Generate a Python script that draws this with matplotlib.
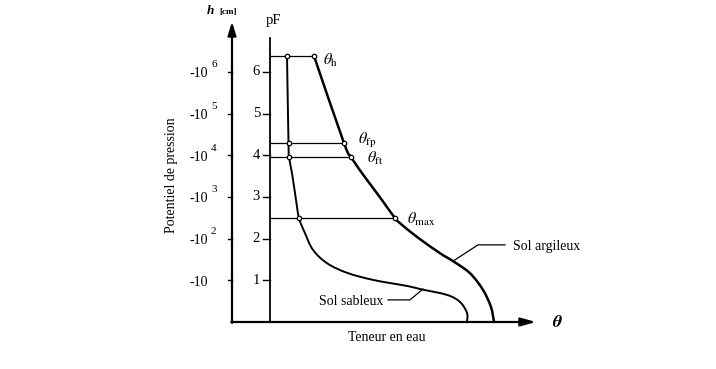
import matplotlib.pyplot as plt
import numpy as np
from matplotlib.path import Path
from matplotlib.patches import PathPatch

plt.rcParams['font.family'] = ['Liberation Serif', 'DejaVu Serif']
plt.rcParams['mathtext.fontset'] = 'stix'

# water content (arbitrary units) vs pF
clay_theta = [8.8, 14.8, 16.2, 18.4, 22.0, 25.0, 26.0, 29.4, 34.0, 36.6, 40.0, 42.6, 44.2, 44.8]
clay_pf = [6.38, 4.29, 3.96, 3.57, 2.99, 2.49, 2.37, 2.04, 1.65, 1.46, 1.17, 0.77, 0.36, 0.0]

sand_theta = [3.4, 3.7, 3.8, 4.4, 5.2, 5.8, 7.0, 8.6, 11.4, 15.4, 20.6, 27.6, 30.0, 35.4, 38.0, 39.4, 39.4]
sand_pf = [6.38, 4.29, 3.96, 3.57, 2.93, 2.49, 2.13, 1.73, 1.41, 1.18, 1.01, 0.86, 0.79, 0.65, 0.48, 0.22, 0.0]

# characteristic points
levels_pf = [6.38, 4.29, 3.96, 2.49]
levels_sand = [3.4, 3.7, 3.8, 5.8]
levels_clay = [8.8, 14.8, 16.2, 25.0]
level_names = [r"$\theta_{\rm h}$", r"$\theta_{\rm fp}$", r"$\theta_{\rm ft}$", r"$\theta_{\rm max}$"]
level_text = [(10.6, 6.28), (17.6, 4.36), (19.4, 3.93), (27.4, 2.45)]

pf_ticks = [1, 2, 3, 4, 5, 6]
h_labels = ["", "2", "3", "4", "5", "6"]


def smooth_line(ax, x, y, lw):
    # bezier path through the read points (catmull-rom tangents)
    p = np.column_stack([x, y])
    n = len(p)
    verts = [p[0]]
    codes = [Path.MOVETO]
    for i in range(n - 1):
        a = p[max(i - 1, 0)]
        b = p[min(i + 2, n - 1)]
        c1 = p[i] + (p[i + 1] - a) / 6
        c2 = p[i + 1] - (b - p[i]) / 6
        verts += [c1, c2, p[i + 1]]
        codes += [Path.CURVE4] * 3
    ax.add_patch(PathPatch(Path(verts, codes), fill=False, lw=lw, ec="black", capstyle="round"))


fig = plt.figure(figsize=(7.16, 3.69), dpi=100)
ax = fig.add_axes([0, 0, 1, 1])
ax.set_xlim(-54, 89.2)
ax.set_ylim(-1.127, 7.722)
ax.axis("off")

h_x = -7.6
k = "black"

# axes
ax.annotate("", xy=(h_x, 7.2), xytext=(h_x, -0.02),
            arrowprops=dict(arrowstyle="-|>,head_length=0.8,head_width=0.25", color=k, lw=1.6, shrinkA=0, shrinkB=0))
ax.annotate("", xy=(53.2, 0), xytext=(h_x - 0.15, 0),
            arrowprops=dict(arrowstyle="-|>,head_length=0.9,head_width=0.25", color=k, lw=1.6, shrinkA=0, shrinkB=0))
ax.plot([0, 0], [0, 6.81], color=k, lw=1.3)

for t, hl in zip(pf_ticks, h_labels):
    ax.plot([-1.4, 0], [t, t], color=k, lw=1)
    ax.text(-2.0, t, str(t), ha="right", va="center", fontsize=10.5)
    ax.plot([h_x - 0.9, h_x], [t, t], color=k, lw=1)
    ax.text(-12.4, t - 0.05, "-10", ha="right", va="center", fontsize=10)
    if hl:
        ax.text(-11.8, t + 0.17, hl, ha="left", va="center", fontsize=8)

ax.text(-11.2, 7.46, "h", ha="right", va="center", fontsize=9.5, style="italic", weight="bold")
ax.text(-10.2, 7.44, "[cm]", ha="left", va="center", fontsize=6.5, weight="bold")
ax.text(0.6, 7.24, "pF", ha="center", va="center", fontsize=10.5)
ax.text(-19.6, 3.53, "Potentiel de pression", rotation=90, ha="center", va="center", fontsize=10)
ax.text(23.4, -0.36, "Teneur en eau", ha="center", va="center", fontsize=10)
ax.text(56.4, -0.02, r"$\boldsymbol{\theta}$", ha="left", va="center", fontsize=13)

# characteristic levels
for pf, tc, name, pos in zip(levels_pf, levels_clay, level_names, level_text):
    ax.plot([0, tc], [pf, pf], color=k, lw=0.9)
    ax.text(pos[0], pos[1], name, ha="left", va="center", fontsize=11.5)

# curves
smooth_line(ax, clay_theta, clay_pf, 1.8)
smooth_line(ax, sand_theta, sand_pf, 1.4)
ax.plot(levels_sand, levels_pf, "o", ms=3.2, mfc="white", mec=k, mew=0.9)
ax.plot(levels_clay, levels_pf, "o", ms=3.2, mfc="white", mec=k, mew=0.9)

# labels with leaders
ax.plot([36.6, 41.6, 47.0], [1.46, 1.85, 1.85], color=k, lw=0.9)
ax.text(48.6, 1.82, "Sol argileux", ha="left", va="center", fontsize=10)
ax.plot([30.6, 28.0, 23.6], [0.79, 0.53, 0.53], color=k, lw=0.9)
ax.text(22.6, 0.48, "Sol sableux", ha="right", va="center", fontsize=10)

fig.savefig("out.png", dpi=100)
